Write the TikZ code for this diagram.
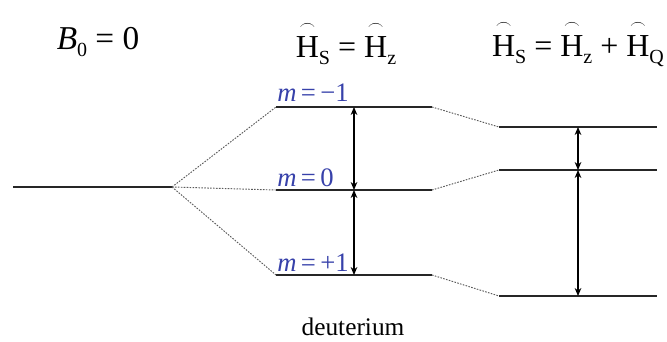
\documentclass[tikz,border=0pt]{standalone}
\usepackage{amsmath}
\usepackage{fontspec}
\setmainfont{Liberation Serif}
\usetikzlibrary{positioning,arrows.meta,calc}
\definecolor{levelblue}{RGB}{55,65,170}
\definecolor{linkgray}{RGB}{90,90,90}
\newcommand{\subsc}[1]{\raisebox{-0.5ex}{\fontsize{15}{15}\selectfont #1}}
\newcommand{\hatH}[1]{$\overset{\scriptscriptstyle\frown}{\text{H}}$\subsc{#1}}

\tikzset{
  level/.style={line width=1.5pt,black!85},
  link/.style={dash pattern=on 1.2pt off 1pt,linkgray,line width=0.7pt},
  gap/.style={{Stealth[length=6pt,width=5pt]}-{Stealth[length=6pt,width=5pt]},line width=0.8pt},
  mlabel/.style={levelblue,font=\fontsize{20}{20}\selectfont,anchor=base west,inner sep=0pt},
  title/.style={font=\fontsize{24}{24}\selectfont,inner sep=0pt}
}

\begin{document}
\begin{tikzpicture}[x=0.75pt,y=-0.75pt]
  \useasboundingbox (0,0) rectangle (667,342);

  % titles
  \node[title,font=\fontsize{25}{25}\selectfont] (tzero) at (98,42) {\textit{B}\subsc{0} = 0};
  \node[title] (tzee) at (346,43) {\hatH{S} = \hatH{z}};
  \node[title] (tquad) at (578,43) {\hatH{S} = \hatH{z} + \hatH{Q}};

  % zero field level
  \coordinate (z0) at (13,187);
  \coordinate (z1) at (172,187);
  \draw[level] (z0) -- (z1);

  % Zeeman levels
  \coordinate (am) at (276,107); \coordinate (bm) at (432,107);
  \coordinate (ao) at (276,190); \coordinate (bo) at (432,190);
  \coordinate (ap) at (276,275); \coordinate (bp) at (432,275);
  \foreach \a/\b in {am/bm,ao/bo,ap/bp}
    \draw[level] (\a) -- (\b);

  % quadrupole levels
  \coordinate (cm) at (499,127); \coordinate (dm) at (657,127);
  \coordinate (co) at (499,170); \coordinate (do) at (657,170);
  \coordinate (cp) at (499,296); \coordinate (dp) at (657,296);
  \foreach \a/\b in {cm/dm,co/do,cp/dp}
    \draw[level] (\a) -- (\b);

  % dotted correlation lines
  \foreach \t in {am,ao,ap}
    \draw[link] (z1) -- (\t);
  \draw[link] (bm) -- (cm);
  \draw[link] (bo) -- (co);
  \draw[link] (bp) -- (cp);

  % m labels
  \node[mlabel] (lm) at (277,102) {\textit{m}\,=\,−1};
  \node[mlabel] (lo) at (277,186) {\textit{m}\,=\,0};
  \node[mlabel] (lp) at (277,271) {\textit{m}\,=\,+1};

  % transition gaps
  \coordinate (g1) at (354,107); \coordinate (g2) at (354,190); \coordinate (g3) at (354,275);
  \draw[gap] (g1) -- (g2);
  \draw[gap] (g2) -- (g3);
  \coordinate (h1) at (578,127); \coordinate (h2) at (578,170); \coordinate (h3) at (578,296);
  \draw[gap] (h1) -- (h2);
  \draw[gap] (h2) -- (h3);

  \node[font=\fontsize{19}{19}\selectfont,inner sep=0pt] (cap) at (353,327) {deuterium};
\end{tikzpicture}
\end{document}
